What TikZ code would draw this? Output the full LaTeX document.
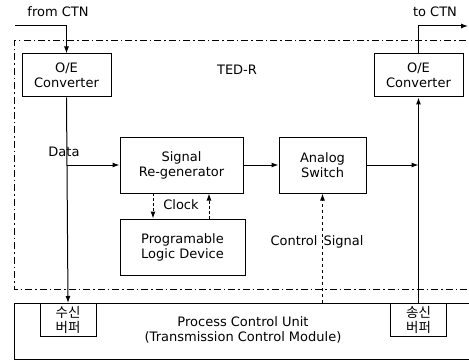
\documentclass[tikz,border=0pt]{standalone}
\usepackage{fontspec}
\setmainfont{DejaVu Sans}
\newfontfamily\krfont{Noto Sans CJK KR}
\usetikzlibrary{arrows.meta}
\begin{document}
\begin{tikzpicture}[x=1pt,y=-1pt,
  font=\fontsize{13}{15}\selectfont,
  blk/.style={draw, line width=1pt, inner sep=0pt, align=center},
  wire/.style={line width=1pt},
  arr/.style={wire, -{Latex[length=7pt,width=5pt]}},
  dashdot/.style={line width=1pt, dash pattern=on 7pt off 3pt on 1.5pt off 3pt},
  buf/.style={blk, minimum width=56pt, minimum height=33pt, font=\krfont\fontsize{13.5}{15}\selectfont}]
\useasboundingbox (0,0) rectangle (469,361);
\clip (0,0) rectangle (469,361);

% TED-R enclosure (dash-dot), open to the right
\draw[dashdot] (480,41) -- (14,41) -- (14,289) -- (480,289);

% functional blocks
\node[blk, minimum width=89pt, minimum height=43pt] (oeL) at (66.5,75.5) {O/E\\Converter};
\node[blk, minimum width=89pt, minimum height=43pt] (oeR) at (418.5,75.5) {O/E\\Converter};
\node[blk, minimum width=123pt, minimum height=56pt] (sreg) at (181.5,165) {Signal\\Re-generator};
\node[blk, minimum width=87pt, minimum height=56pt] (asw) at (322.5,165) {Analog\\Switch};
\node[blk, minimum width=125pt, minimum height=56pt] (pld) at (182.5,247) {Programable\\Logic Device};

% process control unit with its buffers
\node[blk, minimum width=470pt, minimum height=56pt, anchor=north west] (pcu) at (14,303) {};
\node[align=center] (pcutxt) at (243,330) {Process Control Unit\\(Transmission Control Module)};
\node[buf, anchor=north] (rxbuf) at (68,303) {수신\\버퍼};
\node[buf, anchor=north] (txbuf) at (418.5,303) {송신\\버퍼};

% labels
\node (from) at (58,12) {from CTN};
\node (to) at (435,12) {to CTN};
\node (ted) at (237,70) {TED-R};
\node (data) at (64,152) {Data};
\node[fill=white, inner sep=1pt] (clk) at (181,205) {Clock};

% input and output fibres
\coordinate (inS) at (15,26);
\coordinate (outE) at (468,26);
\draw[arr] (inS) -- (oeL.north |- inS) -- (oeL.north);
\draw[arr] (oeR.north) -- (oeR.north |- outE) -- (outE);

% data path
\coordinate (dj) at (oeL.south |- sreg.west);
\draw[arr] (oeL.south) -- (rxbuf.north);
\draw[arr] (dj) -- (sreg.west);
\draw[arr] (sreg.east) -- (asw.west);
\coordinate (oj) at (oeR.south |- asw.east);
\draw[arr] (asw.east) -- (oj);
\draw[arr] (txbuf.north) -- (oeR.south);

% clock exchange
\coordinate (c1a) at (153,193);
\coordinate (c2a) at (209,219);
\draw[arr, densely dashed] (c1a) -- (c1a |- pld.north);
\draw[arr, densely dashed] (c2a) -- (c2a |- sreg.south);

% control signal
\node (ctl) at (317,242) {Control\hspace{6pt}Signal};
\coordinate (cs) at (asw.south |- pcu.north);
\draw[arr, dashed] (cs) -- (asw.south);
\end{tikzpicture}
\end{document}
